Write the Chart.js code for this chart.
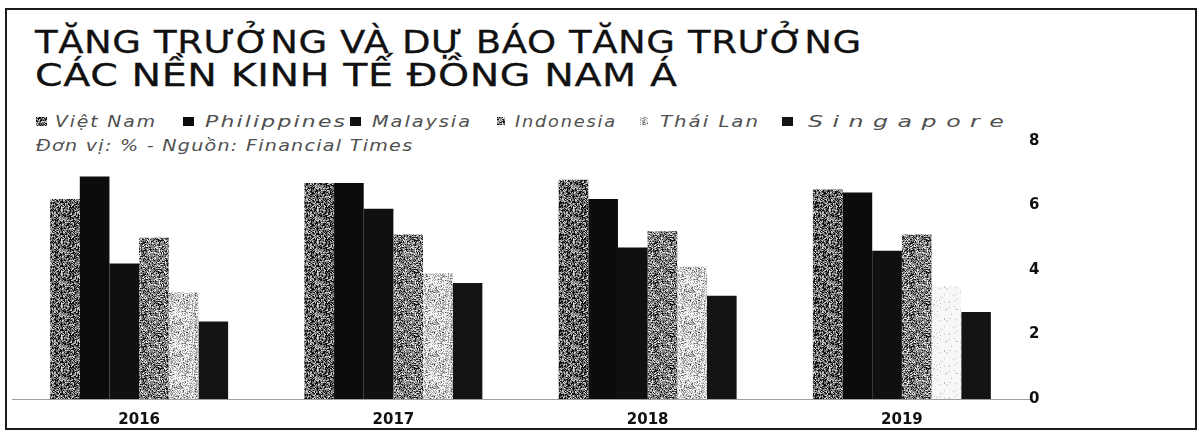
<!DOCTYPE html>
<html lang="vi">
<head>
<meta charset="utf-8">
<title>Tăng trưởng và dự báo tăng trưởng các nền kinh tế Đông Nam Á</title>
<script src="https://cdn.jsdelivr.net/npm/chart.js@4.4.1/dist/chart.umd.min.js"></script>
<style>
    html, body { margin: 0; padding: 0; background: #fff; }
    #wrap { position: relative; width: 1199px; height: 435px; overflow: hidden; }
    #frame {
        position: absolute; left: 5px; top: 8px; width: 1188px; height: 418px;
        border: 2px solid #1c1c1c; box-sizing: content-box;
    }
    .title-line {
        position: absolute; left: 35px; margin: 0;
        font-family: "DejaVu Sans", sans-serif; font-weight: normal;
        font-size: 32px; line-height: 36px; color: #111; white-space: nowrap;
        -webkit-text-stroke: 0.3px #111; transform-origin: 0 0;
    }
    .soft {
        position: absolute;
        font-family: "DejaVu Sans", sans-serif; font-style: italic;
        font-size: 15px; line-height: 18px; color: #505050; white-space: nowrap;
        transform-origin: 0 0;
    }
    .lg-box { position: absolute; width: 11px; height: 9px; }
    #chartBox { position: absolute; left: 0; top: 0; width: 1199px; height: 435px; }
</style>
</head>
<body>
<div id="wrap">
    <div id="frame"></div>
    <div class="title-line" id="t1" style="top:24px">TĂNG TRƯỞNG VÀ DỰ BÁO TĂNG TRƯỞNG</div>
    <div class="title-line" id="t2" style="top:57px">CÁC NỀN KINH TẾ ĐỒNG NAM Á</div>
    <div id="legend"></div>
    <div class="soft" id="source" style="left:36px; top:137px">Đơn vị: % - Nguồn: Financial Times</div>
    <div id="chartBox"><canvas id="growthChart" width="1199" height="435"></canvas></div>
</div>

<script>
// ---- dữ liệu ----
const years = ["2016", "2017", "2018", "2019"];
const countries = ["Việt Nam", "Philippines", "Malaysia", "Indonesia", "Thái Lan", "Singapore"];

const vietNam     = [6.2, 6.7, 6.8, 6.5];
const philippines = [6.9, 6.7, 6.2, 6.4];
const malaysia    = [4.2, 5.9, 4.7, 4.6];
const indonesia   = [5.0, 5.1, 5.2, 5.1];
const thaiLan     = [3.3, 3.9, 4.1, 3.5];
const singapore   = [2.4, 3.6, 3.2, 2.7];

const yTicks = [0, 2, 4, 6, 8];

// giãn ngang chữ cho khớp bề rộng bản gốc (kiểu chữ gốc rất bè)
function fit(el, width, ls) {
    el.style.letterSpacing = ls + "px";
    el.style.transform = "none";
    const w = el.getBoundingClientRect().width - ls;
    el.style.transform = `scaleX(${(width / w).toFixed(3)})`;
}

fit(document.getElementById("t1"), 826, 0.5);
fit(document.getElementById("t2"), 642, 0.5);
fit(document.getElementById("source"), 376, 1);

// ---- hoạ tiết giả bản in scan ----
function hash(x, y, s) {
    let h = (x * 374761393 + y * 668265263 + s * 1442695041) | 0;
    h = (h ^ (h >>> 13)) * 1274126177 | 0;
    return ((h ^ (h >>> 16)) >>> 0) / 4294967296;
}

function speckle(mix, seed) {
    const c = document.createElement("canvas");
    c.width = 32; c.height = 32;
    const g = c.getContext("2d");
    for (let y = 0; y < 32; y++) {
        for (let x = 0; x < 32; x++) {
            const r = hash(x, y, seed);
            let acc = 0, col = mix[mix.length - 1][0];
            for (const [mc, w] of mix) {
                acc += w;
                if (r < acc) { col = mc; break; }
            }
            g.fillStyle = col;
            g.fillRect(x, y, 1, 1);
        }
    }
    return c;
}

const texVN   = speckle([["#111", 0.36], ["#777", 0.46], ["#d0d0d0", 0.18]], 3);
const texIndo = speckle([["#1a1a1a", 0.26], ["#848484", 0.52], ["#e0e0e0", 0.22]], 7);
const texThai = speckle([["#555", 0.07], ["#a8a8a8", 0.40], ["#f2f2f2", 0.53]], 11);
const texFade = speckle([["#bdbdbd", 0.05], ["#f7f7f7", 0.95]], 13);

const ctx = document.getElementById("growthChart").getContext("2d");
const pat = cv => ctx.createPattern(cv, "repeat");

const fills = [
    pat(texVN),
    "#0c0c0c",
    "#101010",
    pat(texIndo),
    [pat(texThai), pat(texThai), pat(texThai), pat(texFade)],
    "#141414"
];
const series = [vietNam, philippines, malaysia, indonesia, thaiLan, singapore];

// ---- chú giải ----
const legendEl = document.getElementById("legend");
const boxLeft   = [36, 183, 350, 497, 640, 782];
const textLeft  = [55, 205, 372, 515, 660, 808];
const textWidth = [100, 140, 98, 100, 98, 196];
const boxCss = [
    `url(${texVN.toDataURL()})`,
    "#0c0c0c",
    "#101010",
    `url(${texIndo.toDataURL()})`,
    `url(${texThai.toDataURL()})`,
    "#141414"
];
countries.forEach((name, i) => {
    const b = document.createElement("span");
    b.className = "lg-box";
    b.style.left = boxLeft[i] + "px";
    b.style.top = "117px";
    b.style.background = boxCss[i];
    if (i === 3 || i === 4) { b.style.width = "8px"; b.style.height = "8px"; }
    legendEl.appendChild(b);

    const t = document.createElement("span");
    t.className = "soft";
    t.style.left = textLeft[i] + "px";
    t.style.top = "113px";
    t.textContent = name;
    legendEl.appendChild(t);
    fit(t, textWidth[i], i === 5 ? 6 : 1.5);
});

// ---- biểu đồ ----
new Chart(ctx, {
    type: "bar",
    data: {
        labels: years,
        datasets: countries.map((name, i) => ({
            label: name,
            data: series[i],
            backgroundColor: fills[i],
            borderWidth: 0,
            barPercentage: 1,
            categoryPercentage: 0.7
        }))
    },
    options: {
        responsive: false,
        animation: false,
        devicePixelRatio: 1,
        layout: { padding: { left: 12, top: 141, right: 140, bottom: 6 } },
        plugins: {
            legend: { display: false },
            title: { display: false },
            tooltip: { enabled: false }
        },
        scales: {
            x: {
                grid: { display: false },
                border: { display: true, color: "#a0a0a0", dash: [2, 2], width: 1 },
                ticks: {
                    color: "#111",
                    padding: 4,
                    font: { family: "DejaVu Sans", weight: "bold", size: 15 }
                },
                afterFit: s => { s.height = 30; }
            },
            y: {
                position: "right",
                min: 0,
                max: 8,
                afterBuildTicks: s => { s.ticks = yTicks.map(v => ({ value: v })); },
                grid: { display: false, drawTicks: false },
                border: { display: false },
                ticks: {
                    color: "#111",
                    padding: 0,
                    font: { family: "DejaVu Sans", weight: "bold", size: 15 }
                },
                afterFit: s => { s.width = 30; }
            }
        }
    }
});
</script>
</body>
</html>
